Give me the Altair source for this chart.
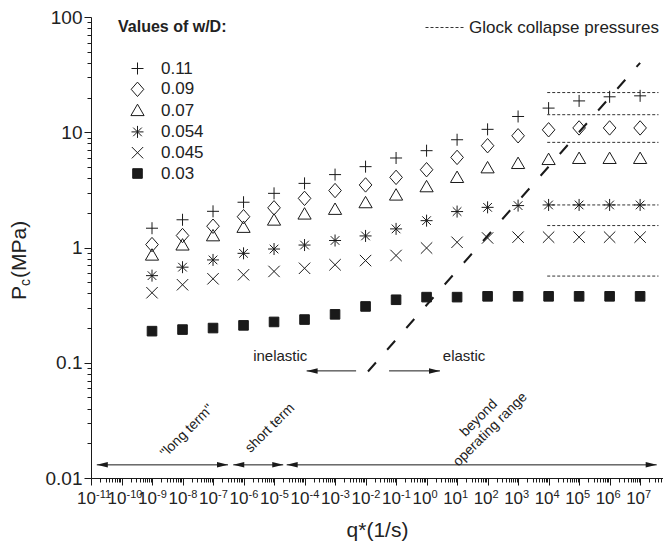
import altair as alt
import pandas as pd

# ---- measured collapse pressures P_c (MPa) at q* = 10^-9 ... 10^7 (1/s) ----
q_exp = list(range(-9, 8))
series_names = ["0.11", "0.09", "0.07", "0.054", "0.045", "0.03"]
p_011 = [1.47, 1.74, 2.06, 2.47, 2.95, 3.6, 4.29, 5.03, 5.98, 6.92, 8.61, 10.6, 13.7, 16.2, 18.7, 20.3, 20.7]
p_009 = [1.06, 1.27, 1.53, 1.85, 2.21, 2.67, 3.12, 3.49, 4.06, 4.73, 6.05, 7.64, 9.32, 10.5, 10.9, 10.9, 10.9]
p_007 = [0.85, 1.04, 1.25, 1.48, 1.71, 1.93, 2.12, 2.42, 2.82, 3.33, 4.01, 4.86, 5.3, 5.74, 5.86, 5.86, 5.86]
p_0054 = [0.57, 0.675, 0.78, 0.89, 0.97, 1.05, 1.15, 1.26, 1.45, 1.71, 2.05, 2.23, 2.31, 2.34, 2.34, 2.34, 2.34]
p_0045 = [0.405, 0.475, 0.535, 0.58, 0.62, 0.66, 0.708, 0.77, 0.853, 0.99, 1.11, 1.21, 1.23, 1.23, 1.23, 1.23, 1.23]
p_003 = [0.188, 0.194, 0.20, 0.211, 0.226, 0.237, 0.263, 0.308, 0.352, 0.371, 0.371, 0.377, 0.377, 0.377, 0.377, 0.377, 0.377]
series_values = [p_011, p_009, p_007, p_0054, p_0045, p_003]

# Glock collapse pressures (horizontal reference levels)
glock_values = [22.1, 14.2, 8.17, 2.34, 1.55, 0.565]
glock_q_range = [9.0e3, 4.0e7]

# elastic / inelastic limit (dashed diagonal)
limit_q = [0.012, 1.0e7]
limit_p = [0.084, 40.0]

# range arrows: (q start, q end, P, head at start, head at end)
arrow_q_start = [1.55e-11, 4.6e-7, 2.6e-5, 1.17e-4, 0.059]
arrow_q_end = [3.1e-7, 2.0e-5, 3.5e7, 4.9e-3, 2.75]
arrow_p = [0.013, 0.013, 0.013, 0.085, 0.085]
arrow_head_start = [True, True, True, True, False]
arrow_head_end = [True, True, True, False, True]

# annotation texts
flat_labels = ["inelastic", "elastic"]
flat_q = [1.6e-5, 17.0]
flat_p = [0.103, 0.103]
tilted_labels = ["\"long term\"", "short term", "beyond\noperating range"]
tilted_q = [1.4e-8, 7.4e-6, 52.0]
tilted_p = [0.0255, 0.0271, 0.033]

# decade tick labels: base "10" on the axis, exponents set as superscripts
x_decades = list(range(-11, 8))
x_exponents = [str(k) for k in x_decades]
y_tick_labels = ["0.01", "0.1", "1", "10", "100"]

# ---- tables ----
rows = []
for name, vals in zip(series_names, series_values):
    for e, v in zip(q_exp, vals):
        rows.append({"q": 10.0 ** e, "P": v, "wD": name})
points = pd.DataFrame(rows)

glock = pd.DataFrame({"q1": glock_q_range[0], "q2": glock_q_range[1], "P": glock_values,
                      "name": "Glock collapse pressures"})
limit = pd.DataFrame({"q": limit_q, "P": limit_p})
arrows = pd.DataFrame({"q1": arrow_q_start, "q2": arrow_q_end, "P": arrow_p,
                       "hs": arrow_head_start, "he": arrow_head_end})
heads_left = arrows[arrows.hs][["q1", "P"]].rename(columns={"q1": "q"})
heads_right = arrows[arrows.he][["q2", "P"]].rename(columns={"q2": "q"})
flat = pd.DataFrame({"t": flat_labels, "q": flat_q, "P": flat_p})
tilted = pd.DataFrame({"t": tilted_labels, "q": tilted_q, "P": tilted_p})
expo = pd.DataFrame({"q": [10.0 ** k for k in x_decades], "t": x_exponents})

# ---- axes ----
X_MIN, X_MAX = 1e-11, 10 ** 7.75
Y_MIN, Y_MAX = 0.01, 100.0
x_ticks = [m * 10.0 ** k for k in range(-11, 8) for m in range(1, 10) if m * 10.0 ** k <= X_MAX * 0.999]
y_ticks = [m * 10.0 ** k for k in range(-2, 2) for m in range(1, 10)] + [100.0]

lg = "log(datum.value)/LN10"
is_decade = f"abs({lg} - round({lg})) < 0.0001"
x_label_expr = f"{is_decade} ? '10' : ''"
y_label_expr = f"{is_decade} ? {y_tick_labels}[round({lg}) + 2] : ''"
tick_len = {"condition": {"test": is_decade, "value": 7}, "value": 4}

FONT = "Liberation Sans"
INK = "#1a1a1a"

x_scale = alt.Scale(type="log", domain=[X_MIN, X_MAX], nice=False)
y_scale = alt.Scale(type="log", domain=[Y_MIN, Y_MAX], nice=False)

x_axis = alt.Axis(values=x_ticks, labelExpr=x_label_expr, tickSize=tick_len, grid=False,
                  labelOverlap=False, labelFlush=False, labelFontSize=17, labelPadding=5,
                  labelOffset=-5,
                  title="q*(1/s)", titleFontSize=21, titleFontWeight="normal", titlePadding=13)
y_axis = alt.Axis(values=y_ticks, labelExpr=y_label_expr, tickSize=tick_len, grid=False,
                  labelOverlap=False, labelFlush=False, labelFontSize=19, labelPadding=2,
                  title=None)

X = alt.X("q:Q", scale=x_scale, axis=x_axis)
Y = alt.Y("P:Q", scale=y_scale, axis=y_axis)

# ---- symbols ----
shape_paths = [
    "M-1,0L1,0M0,-1L0,1",
    "M0,-1.2L1.05,0L0,1.2L-1.05,0Z",
    "M0,-1.15L1.1,0.75L-1.1,0.75Z",
    "M-1,0L1,0M0,-1L0,1M-0.72,-0.72L0.72,0.72M-0.72,0.72L0.72,-0.72",
    "M-0.95,-0.95L0.95,0.95M-0.95,0.95L0.95,-0.95",
    "M-0.8,-0.8L0.8,-0.8L0.8,0.8L-0.8,0.8Z",
]
fills = ["transparent"] * 5 + [INK]

series_legend = alt.Legend(title="Values of w/D:", orient="none", legendX=27, legendY=2,
                           titleFontSize=16, titleFontWeight="bold", titlePadding=25,
                           labelFontSize=17, symbolSize=144, symbolStrokeWidth=1,
                           rowPadding=2.8, labelOffset=15, symbolOffset=11, padding=0)

pts = alt.Chart(points).mark_point(size=144, strokeWidth=1, opacity=1).encode(
    x=X, y=Y,
    shape=alt.Shape("wD:N", scale=alt.Scale(domain=series_names, range=shape_paths), legend=series_legend),
    fill=alt.Fill("wD:N", scale=alt.Scale(domain=series_names, range=fills), legend=series_legend),
    stroke=alt.Stroke("wD:N", scale=alt.Scale(domain=series_names, range=[INK] * 6), legend=series_legend),
)

glock_rules = alt.Chart(glock).mark_rule(strokeWidth=1, color="#333").encode(
    x=alt.X("q1:Q", scale=x_scale, axis=x_axis), x2="q2", y=alt.Y("P:Q", scale=y_scale, axis=y_axis),
    strokeDash=alt.StrokeDash("name:N", scale=alt.Scale(domain=["Glock collapse pressures"], range=[[3, 2]]),
                              legend=alt.Legend(title=None, orient="none", legendX=334, legendY=-9,
                                                symbolType="stroke", symbolSize=1444,
                                                symbolStrokeColor="#333", symbolStrokeWidth=1,
                                                labelFontSize=17, labelOffset=5, labelLimit=400,
                                                padding=0)),
)

limit_line = alt.Chart(limit).mark_line(strokeDash=[12, 17], strokeWidth=2, color=INK).encode(x=X, y=Y)

shafts = alt.Chart(arrows).mark_rule(strokeWidth=1, color=INK).encode(
    x=alt.X("q1:Q", scale=x_scale, axis=x_axis), x2="q2", y=alt.Y("P:Q", scale=y_scale, axis=y_axis))
head_l = alt.Chart(heads_left).mark_point(shape="M0,0L2,-0.5L2,0.5Z", size=121, filled=True,
                                          fill=INK, strokeWidth=0, opacity=1).encode(x=X, y=Y)
head_r = alt.Chart(heads_right).mark_point(shape="M0,0L-2,-0.5L-2,0.5Z", size=121, filled=True,
                                           fill=INK, strokeWidth=0, opacity=1).encode(x=X, y=Y)

flat_text = alt.Chart(flat).mark_text(fontSize=15, font=FONT, color="#222", align="center",
                                      baseline="alphabetic").encode(x=X, y=Y, text="t:N")
tilted_text = alt.Chart(tilted).mark_text(fontSize=14, font=FONT, color="#222", align="center",
                                          baseline="middle", angle=315, lineBreak="\n").encode(
    x=X, y=Y, text="t:N")

# exponents of the decade labels, placed just right of each "10"
expo_text = alt.Chart(expo).mark_text(fontSize=11, font=FONT, color="#222", align="left",
                                      baseline="alphabetic", dx=5).encode(
    x=X, y=alt.value(481), text="t:N")

# y-axis title with subscript, built from pieces
title_parts = [("P", 21, -65, 283), ("c", 14, -61, 269), ("(MPa)", 21, -65, 261)]
title_layers = [
    alt.Chart(pd.DataFrame({"t": [t]})).mark_text(fontSize=fs, font=FONT, color="#222", angle=270,
                                                  align="left", baseline="alphabetic").encode(
        text="t:N", x=alt.value(px), y=alt.value(py))
    for t, fs, px, py in title_parts
]

chart = alt.layer(glock_rules, limit_line, shafts, head_l, head_r, pts, flat_text, tilted_text,
                  expo_text, *title_layers).properties(
    width=572, height=461,
    autosize=alt.AutoSizeParams(type="none"),
    padding={"left": 91, "top": 17, "right": 0, "bottom": 75},
    background="white",
).configure_view(stroke=None).configure_axis(
    domainColor=INK, tickColor=INK, labelColor="#222", titleColor="#222",
    labelFont=FONT, titleFont=FONT, domainWidth=1, tickWidth=1,
).configure_legend(labelFont=FONT, titleFont=FONT, labelColor="#222", titleColor="#222")

chart.save("out.html", embed_options={"renderer": "svg", "actions": False})
